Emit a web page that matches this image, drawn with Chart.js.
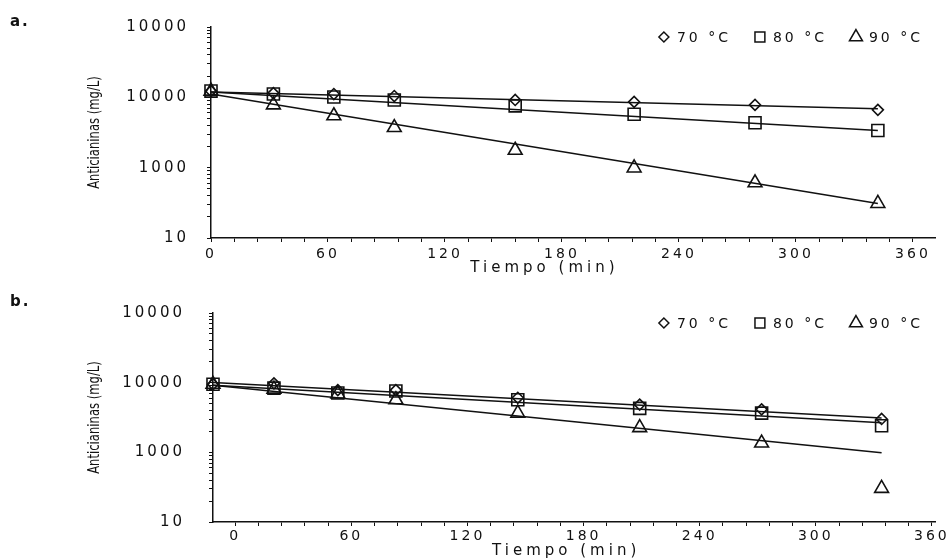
<!DOCTYPE html>
<html>
<head>
<meta charset="utf-8">
<script src="https://cdn.jsdelivr.net/npm/chart.js@4/dist/chart.umd.min.js"></script>
<style>
  html, body { margin: 0; padding: 0; background: #fff; }
  #wrap { position: relative; width: 952px; height: 559px; }
  .panel { position: absolute; left: 0; width: 952px; }
  #pa { top: 0; height: 280px; }
  #pb { top: 280px; height: 279px; }
  .tag { position: absolute; left: 10px; font-family: "DejaVu Sans"; font-size: 15px; font-weight: bold; color: #111; letter-spacing: 2px; }
</style>
</head>
<body>
<div id="wrap">
  <div class="panel" id="pa"><canvas id="chartA" width="952" height="280"></canvas></div>
  <div class="panel" id="pb"><canvas id="chartB" width="952" height="279"></canvas></div>
  <div class="tag" style="top:12px">a.</div>
  <div class="tag" style="top:292px">b.</div>
</div>
<script>
const seriesNames = ['70 °C', '80 °C', '90 °C'];
const xTitle = 'Tiempo (min)';
const yTitle = 'Anticianinas (mg/L)';
const xTickLabels = [0, 60, 120, 180, 240, 300, 360];
const yTickValues = [100, 1000, 10000, 100000];
const yTickLabels = ['10', '1000', '10000', '10000'];

// panel a
const timeA = [0, 32, 63, 94, 156, 217, 279, 342];
const a70 = [12270, 11500, 11140, 10440, 9180, 8600, 7800, 6640];
const a80 = [12270, 11140, 10100, 9180, 7560, 5740, 4360, 3370];
const a90 = [12270, 7800, 5470, 3720, 1770, 990, 609, 310];
const fitTimeA = [0, 342];
const fitA70 = [11880, 6860];
const fitA80 = [11880, 3370];
const fitA90 = [11140, 310];

// panel b
const timeB = [-11.5, 20, 53, 83, 146, 209, 272, 334];
const b70 = [9480, 9780, 7830, 7830, 6070, 4850, 4140, 3010];
const b80 = [9480, 8340, 7110, 7590, 5690, 4270, 3650, 2410];
const b90 = [9480, 8080, 6890, 5690, 3650, 2260, 1360, 304];
const fitTimeB = [-11.5, 334];
const fitB70 = [10090, 3110];
const fitB80 = [9180, 2650];
const fitB90 = [9180, 987];

const ink = '#111';
const styles = [
  { pointStyle: 'rectRot', pointRadius: 5.5, legendRadius: 5 },
  { pointStyle: 'rect', pointRadius: 8.5, legendRadius: 7 },
  { pointStyle: 'triangle', pointRadius: 8, legendRadius: 7.5 }
];

function pts(xs, ys) {
  return xs.map((x, i) => ({ x: x, y: ys[i] }));
}

// minor ticks: every 12 min on x, 1..9 per decade on y
const xTicks = [];
for (let v = 0; v <= 360; v += 12) xTicks.push(v);
const yTicks = [];
yTickValues.forEach((d, i) => {
  for (let k = 1; k <= 9; k++) {
    if (i === yTickValues.length - 1 && k > 1) break;
    yTicks.push(d * k);
  }
});

// legend drawn inside the plot, top right, in one row
function drawLegend(chart) {
  const ctx = chart.ctx;
  const area = chart.chartArea;
  ctx.save();
  ctx.font = '14px "DejaVu Sans"';
  ctx.letterSpacing = '3px';
  ctx.textBaseline = 'middle';
  ctx.textAlign = 'left';
  const markW = 14, gapText = 6, gapItem = 22;
  const widths = seriesNames.map(n => markW + gapText + ctx.measureText(n).width);
  const total = widths.reduce((a, b) => a + b, 0) + gapItem * (widths.length - 1);
  let x = area.right - 12 - total;
  const y = area.top + 10;
  seriesNames.forEach((name, i) => {
    ctx.strokeStyle = ink;
    ctx.fillStyle = 'rgba(0,0,0,0)';
    ctx.lineWidth = 1.5;
    Chart.helpers.drawPoint(ctx, { pointStyle: styles[i].pointStyle, radius: styles[i].legendRadius, rotation: 0, borderWidth: 1.5 }, x + markW / 2, y);
    ctx.fillStyle = ink;
    ctx.fillText(name, x + markW + gapText, y + 1);
    x += widths[i] + gapItem;
  });
  ctx.restore();
}

const scanText = {
  id: 'scanText',
  beforeUpdate(chart) { chart.ctx.letterSpacing = '3px'; },
  beforeDraw(chart) { chart.ctx.letterSpacing = '3px'; },
  afterDraw(chart, args, opts) {
    const ctx = chart.ctx;
    const area = chart.chartArea;
    drawLegend(chart);
    ctx.save();
    ctx.fillStyle = ink;
    ctx.textAlign = 'center';
    ctx.textBaseline = 'middle';
    ctx.letterSpacing = '4px';
    ctx.font = '15px "DejaVu Sans"';
    ctx.fillText(xTitle, chart.scales.x.getPixelForValue(171), area.bottom + opts.xTitleGap);
    ctx.letterSpacing = '0px';
    ctx.font = '15px "Liberation Sans Narrow", "DejaVu Sans Condensed"';
    ctx.translate(95, (area.top + area.bottom) / 2);
    ctx.rotate(-Math.PI / 2);
    ctx.scale(0.86, 1);
    ctx.fillText(yTitle, 0, 0);
    ctx.restore();
  }
};

function makeChart(id, t, s70, s80, s90, ft, f70, f80, f90, cfg) {
  const series = [s70, s80, s90];
  const fits = [f70, f80, f90];
  const datasets = [];
  series.forEach((s, i) => {
    datasets.push({
      label: seriesNames[i],
      data: pts(t, s),
      showLine: false,
      pointStyle: styles[i].pointStyle,
      pointRadius: styles[i].pointRadius,
      borderColor: ink,
      backgroundColor: 'rgba(0,0,0,0)',
      borderWidth: 1.6,
      clip: false
    });
  });
  fits.forEach((f, i) => {
    datasets.push({
      label: seriesNames[i] + ' ajuste',
      data: pts(ft, f),
      showLine: true,
      pointRadius: 0,
      borderColor: ink,
      borderWidth: 1.5,
      clip: false
    });
  });

  return new Chart(document.getElementById(id), {
    type: 'scatter',
    data: { datasets: datasets },
    plugins: [scanText],
    options: {
      responsive: false,
      animation: false,
      events: [],
      layout: { padding: { top: 23, right: 17, left: 0, bottom: 0 } },
      scales: {
        x: {
          type: 'linear',
          min: cfg.xMin,
          max: cfg.xMax,
          afterBuildTicks: (axis) => { axis.ticks = xTicks.map(v => ({ value: v })); },
          afterFit: (axis) => { axis.height = cfg.xHeight; },
          border: { display: true, color: ink, width: 1.5 },
          grid: { display: true, drawOnChartArea: false, drawTicks: true, tickLength: 4, color: ink, lineWidth: 1 },
          ticks: {
            autoSkip: false,
            maxRotation: 0,
            padding: cfg.xPad,
            color: ink,
            font: { family: 'DejaVu Sans', size: 14 },
            callback: (v) => xTickLabels.includes(v) ? String(v) : ''
          }
        },
        y: {
          type: 'logarithmic',
          min: 100,
          max: 100000,
          afterBuildTicks: (axis) => { axis.ticks = yTicks.map(v => ({ value: v })); },
          afterFit: (axis) => { axis.width = cfg.yWidth; },
          border: { display: true, color: ink, width: 1.5 },
          grid: { display: true, drawOnChartArea: false, drawTicks: true, tickLength: 4, color: ink, lineWidth: 1 },
          ticks: {
            autoSkip: false,
            padding: cfg.yPad,
            color: ink,
            font: { family: 'DejaVu Sans', size: 15 },
            callback: (v) => {
              const i = yTickValues.indexOf(v);
              return i >= 0 ? yTickLabels[i] : '';
            }
          }
        }
      },
      plugins: {
        legend: { display: false },
        tooltip: { enabled: false },
        scanText: { xTitleGap: cfg.titleGap }
      }
    }
  });
}

makeChart('chartA', timeA, a70, a80, a90, fitTimeA, fitA70, fitA80, fitA90,
  { xMin: 0, xMax: 371.3, xHeight: 42, xPad: 4, yWidth: 211, yPad: 18, titleGap: 30 });
makeChart('chartB', timeB, b70, b80, b90, fitTimeB, fitB70, fitB80, fitB90,
  { xMin: -11.5, xMax: 361.6, xHeight: 37, xPad: 2, yWidth: 213, yPad: 24, titleGap: 29 });
</script>
</body>
</html>
